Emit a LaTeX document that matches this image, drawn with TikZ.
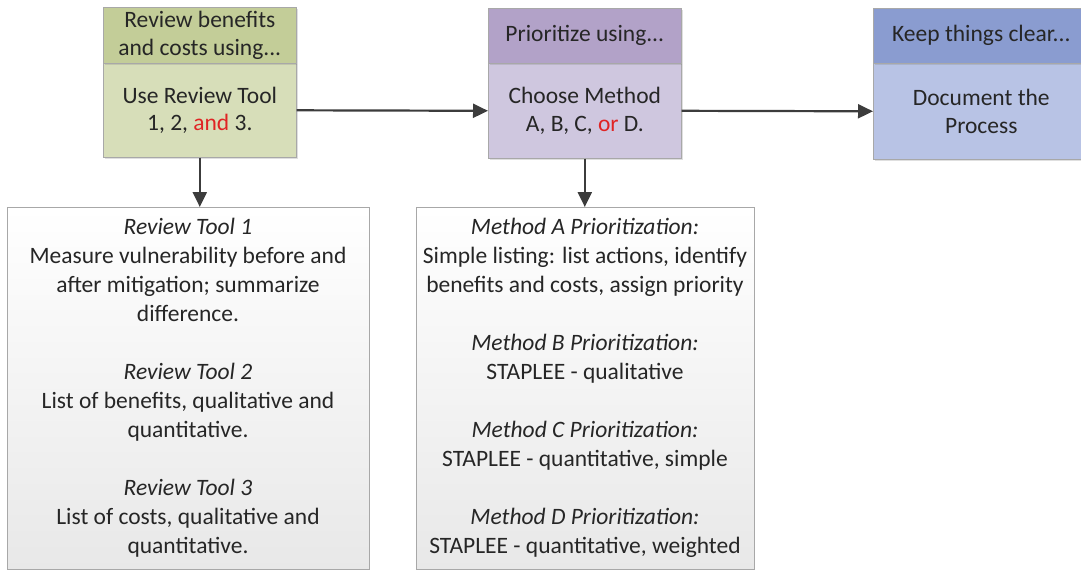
\documentclass[tikz,border=0pt]{standalone}
\usepackage{fontspec}
\setmainfont{Carlito}
\usetikzlibrary{shadows,arrows.meta}
\definecolor{txt}{HTML}{262626}
\definecolor{redc}{HTML}{E02424}
\definecolor{bordc}{HTML}{A8A8A8}
\definecolor{arrc}{HTML}{3C3C3C}
\definecolor{gh}{HTML}{C3CD98}
\definecolor{gb}{HTML}{D7DEB9}
\definecolor{ph}{HTML}{B2A2C8}
\definecolor{pb}{HTML}{CFC7DF}
\definecolor{bh}{HTML}{8A9CD0}
\definecolor{bb}{HTML}{B8C3E5}
\begin{document}
\begin{tikzpicture}[x=1pt,y=-1pt,
  box/.style={draw=bordc, line width=0.6pt, anchor=north west, inner sep=0pt,
    align=center, text=txt, font=\fontsize{23.5}{27.5}\selectfont,
    drop shadow={shadow xshift=2pt, shadow yshift=-2pt, opacity=0.25}},
  detail/.style={draw=bordc, line width=0.8pt, anchor=north west, inner sep=0pt,
    top color=white, bottom color=black!9},
  dtext/.style={align=center, text=txt, font=\fontsize{23.5}{29}\selectfont, inner sep=0pt},
  arr/.style={draw=arrc, line width=2.2pt, -{Triangle[length=15pt,width=14pt]}}]
\useasboundingbox (0,0) rectangle (1081,571);
\clip (0,0) rectangle (1081,571);
% detail boxes
\node[detail, minimum width=362pt, minimum height=362pt] (d1) at (7,207) {};
\node[detail, minimum width=338pt, minimum height=362pt] (d2) at (416,207) {};
\node[dtext] (t1) at (188,387.5) {\textit{Review Tool 1}\\Measure vulnerability before and\\after mitigation; summarize\\difference.\\[29pt]
\textit{Review Tool 2}\\List of benefits, qualitative and\\quantitative.\\[29pt]
\textit{Review Tool 3}\\List of costs, qualitative and\\quantitative.};
\node[dtext] (t2) at (585,387.5) {\textit{Method A Prioritization:}\\Simple listing: list actions, identify\\benefits and costs, assign priority\\[29pt]
\textit{Method B Prioritization:}\\STAPLEE - qualitative\\[29pt]
\textit{Method C Prioritization:}\\STAPLEE - quantitative, simple\\[29pt]
\textit{Method D Prioritization:}\\STAPLEE - quantitative, weighted};
% top boxes
\node[box, fill=gb, minimum width=193pt, minimum height=94pt] (b1) at (103,63) {Use Review Tool\\1, 2, \textcolor{redc}{and} 3.};
\node[box, fill=gh, minimum width=193pt, minimum height=56pt] (h1) at (103,7) {Review benefits\\and costs using...};
\node[box, fill=pb, minimum width=193pt, minimum height=95pt] (b2) at (488,63) {Choose Method\\A, B, C, \textcolor{redc}{or} D.};
\node[box, fill=ph, minimum width=193pt, minimum height=55pt] (h2) at (488,8) {Prioritize using...};
\node[box, fill=bb, minimum width=216pt, minimum height=96pt] (b3) at (873,63) {Document the\\Process};
\node[box, fill=bh, minimum width=216pt, minimum height=55pt] (h3) at (873,8) {Keep things clear...};
% connectors
\draw[arr] (b1.east) -- (b2.west);
\draw[arr] (b2.east) -- (b3.west);
\draw[arr] (b1.south) -- (b1.south |- d1.north);
\draw[arr] (b2.south) -- (b2.south |- d2.north);
\end{tikzpicture}
\end{document}
